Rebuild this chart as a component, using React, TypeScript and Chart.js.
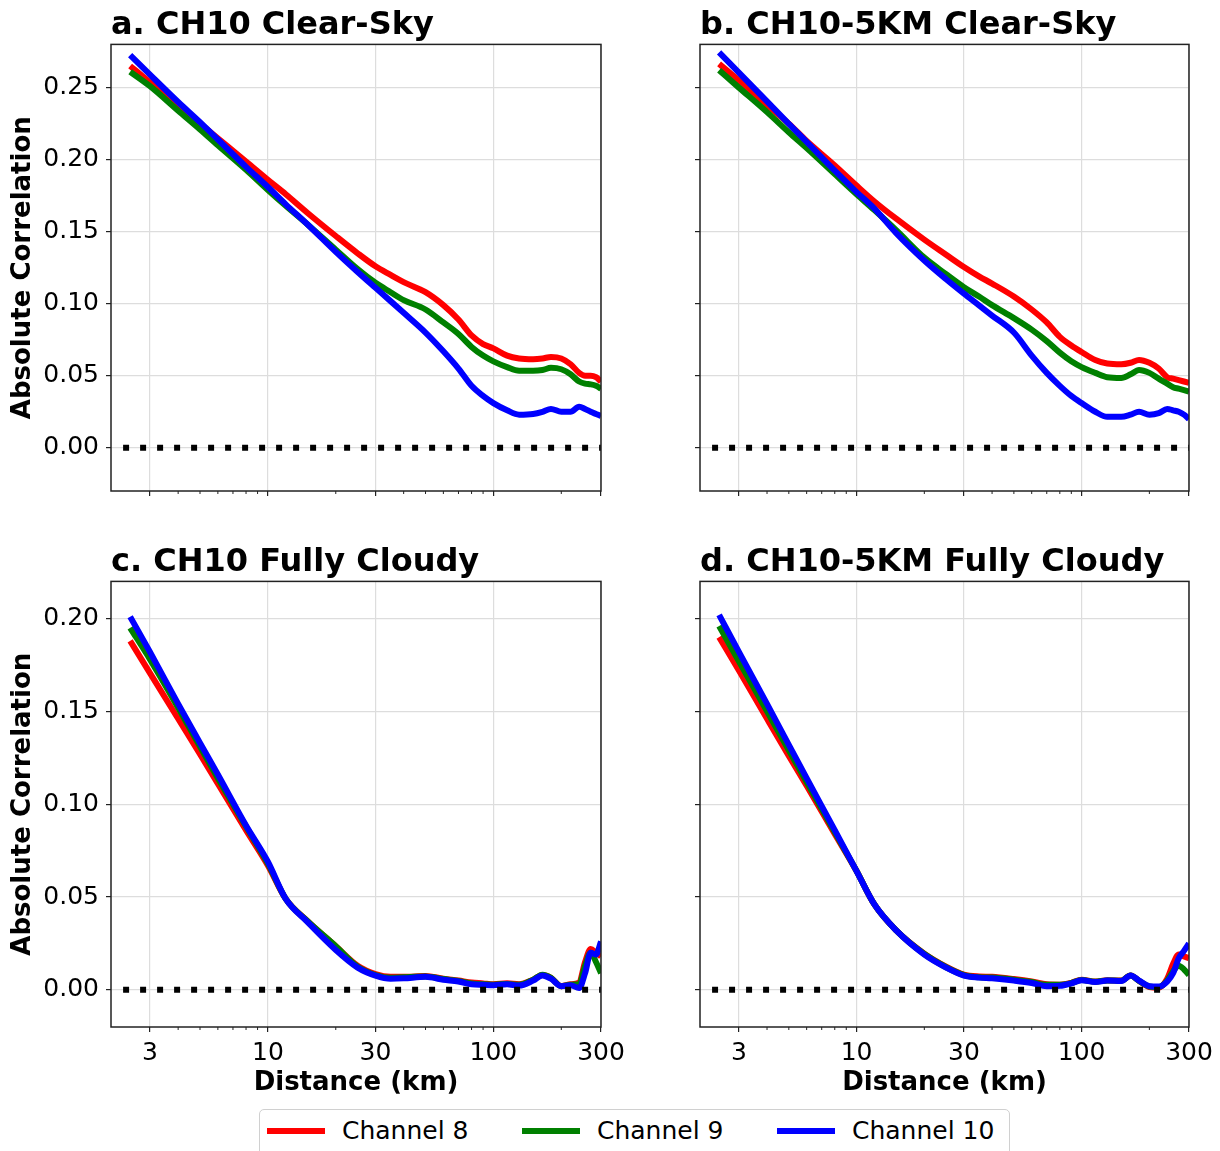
import React, { useEffect, useRef } from 'react';
import { Chart, registerables } from 'chart.js';

Chart.register(...registerables);

const FONT = "'DejaVu Sans', 'Liberation Sans', sans-serif";

// ---------- data ----------
const DISTANCE_KM = [2.45, 3, 4, 5, 6, 8, 10, 12, 15, 20, 25, 30, 35, 40, 50, 60, 70, 80, 90, 100, 115, 130, 150, 165, 180, 200, 220, 240, 255, 270, 285, 300];

// a. CH10 Clear-Sky
const CLEAR_CH8 = [0.265, 0.2537, 0.2375, 0.225, 0.2148, 0.1987, 0.186, 0.176, 0.163, 0.147, 0.135, 0.126, 0.120, 0.115, 0.108, 0.099, 0.089, 0.078, 0.072, 0.069, 0.064, 0.062, 0.0615, 0.062, 0.063, 0.062, 0.058, 0.052, 0.050, 0.050, 0.049, 0.046];
const CLEAR_CH9 = [0.261, 0.251, 0.234, 0.221, 0.210, 0.193, 0.179, 0.168, 0.155, 0.1375, 0.124, 0.1145, 0.108, 0.1025, 0.096, 0.087, 0.079, 0.070, 0.064, 0.060, 0.056, 0.0535, 0.0535, 0.054, 0.0555, 0.0545, 0.051, 0.046, 0.0445, 0.044, 0.043, 0.041];
const CLEAR_CH10 = [0.2725, 0.259, 0.240, 0.226, 0.214, 0.195, 0.181, 0.169, 0.155, 0.136, 0.122, 0.111, 0.1018, 0.0937, 0.080, 0.067, 0.055, 0.043, 0.036, 0.031, 0.026, 0.023, 0.0235, 0.025, 0.027, 0.025, 0.025, 0.0285, 0.027, 0.025, 0.0235, 0.022];

// b. CH10-5KM Clear-Sky
const CLEAR5_CH8 = [0.2665, 0.255, 0.238, 0.225, 0.213, 0.196, 0.182, 0.171, 0.159, 0.1445, 0.134, 0.1255, 0.119, 0.114, 0.105, 0.096, 0.087, 0.077, 0.071, 0.0665, 0.061, 0.0585, 0.058, 0.059, 0.061, 0.059, 0.055, 0.049, 0.048, 0.047, 0.046, 0.045];
const CLEAR5_CH9 = [0.262, 0.250, 0.233, 0.219, 0.208, 0.190, 0.176, 0.165, 0.151, 0.132, 0.1205, 0.1115, 0.105, 0.099, 0.090, 0.082, 0.074, 0.066, 0.060, 0.056, 0.052, 0.049, 0.0485, 0.051, 0.054, 0.052, 0.048, 0.0445, 0.042, 0.041, 0.040, 0.039];
const CLEAR5_CH10 = [0.2745, 0.2604, 0.2404, 0.2249, 0.2123, 0.1923, 0.1775, 0.166, 0.149, 0.130, 0.117, 0.107, 0.0989, 0.0918, 0.080, 0.064, 0.052, 0.043, 0.036, 0.031, 0.025, 0.0215, 0.0215, 0.023, 0.025, 0.023, 0.024, 0.027, 0.026, 0.025, 0.023, 0.020];

// c. CH10 Fully Cloudy
const CLOUDY_CH8 = [0.188, 0.1706, 0.146, 0.127, 0.111, 0.086, 0.067, 0.049, 0.037, 0.0235, 0.013, 0.0085, 0.007, 0.007, 0.0075, 0.006, 0.005, 0.004, 0.0035, 0.003, 0.0035, 0.003, 0.0055, 0.008, 0.0065, 0.002, 0.003, 0.004, 0.015, 0.022, 0.020, 0.018];
const CLOUDY_CH9 = [0.195, 0.178, 0.152, 0.131, 0.114, 0.088, 0.068, 0.049, 0.037, 0.0235, 0.0125, 0.008, 0.0065, 0.0068, 0.0072, 0.0058, 0.0048, 0.0035, 0.003, 0.0028, 0.0032, 0.0027, 0.0055, 0.0082, 0.0065, 0.002, 0.0028, 0.003, 0.013, 0.020, 0.015, 0.009];
const CLOUDY_CH10 = [0.201, 0.182, 0.154, 0.133, 0.116, 0.0885, 0.069, 0.049, 0.0365, 0.0215, 0.012, 0.0077, 0.006, 0.0062, 0.007, 0.0055, 0.0045, 0.003, 0.0027, 0.0025, 0.003, 0.0023, 0.005, 0.0078, 0.006, 0.002, 0.0025, 0.001, 0.009, 0.020, 0.019, 0.026];

// d. CH10-5KM Fully Cloudy
const CLOUDY5_CH8 = [0.190, 0.172, 0.146, 0.126, 0.110, 0.084, 0.064, 0.046, 0.032, 0.0195, 0.0125, 0.0082, 0.0072, 0.007, 0.0058, 0.0045, 0.003, 0.0028, 0.0038, 0.0055, 0.0045, 0.0052, 0.005, 0.0078, 0.0048, 0.0015, 0.0012, 0.006, 0.014, 0.019, 0.018, 0.017];
const CLOUDY5_CH9 = [0.196, 0.177, 0.150, 0.129, 0.112, 0.085, 0.064, 0.046, 0.032, 0.0193, 0.0122, 0.008, 0.0068, 0.0066, 0.0055, 0.0042, 0.0027, 0.0027, 0.0037, 0.0053, 0.0044, 0.0051, 0.0049, 0.0077, 0.0048, 0.0018, 0.0015, 0.005, 0.010, 0.013, 0.011, 0.008];
const CLOUDY5_CH10 = [0.202, 0.182, 0.154, 0.132, 0.114, 0.086, 0.064, 0.046, 0.032, 0.019, 0.012, 0.0077, 0.0066, 0.0062, 0.005, 0.0037, 0.002, 0.0022, 0.0035, 0.0052, 0.0042, 0.005, 0.0048, 0.0078, 0.005, 0.002, 0.0018, 0.0045, 0.009, 0.017, 0.021, 0.025];

const SERIES_NAMES = ['Channel 8', 'Channel 9', 'Channel 10'];
const SERIES_COLORS = ['#ff0000', '#008000', '#0000ff'];
const PANEL_TITLES = ['a. CH10 Clear-Sky', 'b. CH10-5KM Clear-Sky', 'c. CH10 Fully Cloudy', 'd. CH10-5KM Fully Cloudy'];

const X_MIN = 2.015;
const X_MAX = 300;
const X_MAJOR_TICKS = [3, 10, 30, 100, 300];
const X_MINOR_TICKS = [4, 5, 6, 7, 8, 9, 20, 40, 50, 60, 70, 80, 90, 200];
const Y_RANGE_CLEAR = [-0.03, 0.28];
const Y_RANGE_CLOUDY = [-0.02, 0.22];
const Y_TICKS_CLEAR = [0, 0.05, 0.1, 0.15, 0.2, 0.25];
const Y_TICKS_CLOUDY = [0, 0.05, 0.1, 0.15, 0.2];
const ZERO_LINE_X = [2.28, 300];

type PanelSpec = {
  title: string;
  series: number[][];
  yRange: number[];
  yTicks: number[];
  showYLabels: boolean;
  showXLabels: boolean;
  left: number;
  top: number;
  width: number;
  height: number;
  areaLeft: number;
  areaRight: number;
  areaBottom: number;
  titlePadTop: number;
};

const framePlugin = {
  id: 'frameAndMinor',
  afterDraw(chart: any) {
    const { ctx, chartArea: a } = chart;
    const xs = chart.scales.x;
    ctx.save();
    ctx.strokeStyle = '#222';
    ctx.lineWidth = 1;
    X_MINOR_TICKS.forEach((v) => {
      const px = xs.getPixelForValue(v);
      ctx.beginPath();
      ctx.moveTo(px, a.bottom);
      ctx.lineTo(px, a.bottom + 3);
      ctx.stroke();
    });
    ctx.lineWidth = 1.5;
    ctx.strokeRect(a.left, a.top, a.right - a.left, a.bottom - a.top);
    ctx.restore();
  },
};

function Panel({ spec }: { spec: PanelSpec }) {
  const ref = useRef<HTMLCanvasElement>(null);
  useEffect(() => {
    const canvas = ref.current;
    if (!canvas) return;
    const datasets: any[] = [
      {
        label: 'zero',
        data: ZERO_LINE_X.map((x) => ({ x, y: 0 })),
        borderColor: '#000',
        borderWidth: 6,
        borderDash: [6, 11],
        borderCapStyle: 'butt',
        pointRadius: 0,
        order: 0,
        clip: 0,
      },
      ...spec.series.map((vals, i) => ({
        label: SERIES_NAMES[i],
        data: DISTANCE_KM.map((x, j) => ({ x, y: vals[j] })),
        borderColor: SERIES_COLORS[i],
        backgroundColor: SERIES_COLORS[i],
        borderWidth: 6,
        pointRadius: 0,
        cubicInterpolationMode: 'monotone',
        borderJoinStyle: 'round',
        borderCapStyle: 'butt',
        order: 3 - i,
        clip: 0,
      })),
    ];
    const chart = new Chart(canvas, {
      type: 'line',
      data: { datasets },
      plugins: [framePlugin],
      options: {
        animation: false,
        responsive: false,
        events: [],
        layout: { padding: { left: 0, top: 0, right: spec.width - spec.areaRight, bottom: 0 } },
        plugins: {
          legend: { display: false },
          tooltip: { enabled: false },
          title: {
            display: true,
            text: spec.title,
            align: 'start',
            fullSize: false,
            color: '#000',
            font: { family: FONT, size: 32, weight: 'bold' },
            padding: { top: spec.titlePadTop, bottom: 0 },
          },
        },
        scales: {
          x: {
            type: 'logarithmic',
            min: X_MIN,
            max: X_MAX,
            afterBuildTicks: (scale: any) => {
              scale.ticks = X_MAJOR_TICKS.map((v) => ({ value: v }));
            },
            afterFit: (scale: any) => {
              scale.height = spec.height - spec.areaBottom;
            },
            ticks: {
              autoSkip: false,
              maxRotation: 0,
              minRotation: 0,
              padding: 6,
              color: '#000',
              font: { family: FONT, size: 25 },
              callback: (v: any) => (spec.showXLabels ? String(v) : ''),
            },
            grid: { color: '#dddddd', lineWidth: 1.2, tickLength: 5, tickColor: '#222', tickWidth: 1.2 },
            border: { display: false },
            title: {
              display: spec.showXLabels,
              text: 'Distance (km)',
              color: '#000',
              font: { family: FONT, size: 26, weight: 'bold' },
              padding: { top: 0, bottom: 1 },
            },
          },
          y: {
            type: 'linear',
            min: spec.yRange[0],
            max: spec.yRange[1],
            afterBuildTicks: (scale: any) => {
              scale.ticks = spec.yTicks.map((v) => ({ value: v }));
            },
            afterFit: (scale: any) => {
              scale.width = spec.areaLeft;
            },
            ticks: {
              padding: 7,
              color: '#000',
              font: { family: FONT, size: 25 },
              callback: (v: any) => (spec.showYLabels ? Number(v).toFixed(2) : ''),
            },
            grid: { color: '#dddddd', lineWidth: 1.2, tickLength: 5, tickColor: '#222', tickWidth: 1.2 },
            border: { display: false },
            title: {
              display: spec.showYLabels,
              text: 'Absolute Correlation',
              color: '#000',
              font: { family: FONT, size: 26, weight: 'bold' },
              padding: { top: 8, bottom: 0 },
            },
          },
        },
      } as any,
    });
    return () => chart.destroy();
  }, [spec]);

  return (
    <canvas
      ref={ref}
      width={spec.width}
      height={spec.height}
      style={{ position: 'absolute', left: spec.left, top: spec.top, width: spec.width, height: spec.height }}
    />
  );
}

const PANELS: PanelSpec[] = [
  {
    title: PANEL_TITLES[0], series: [CLEAR_CH8, CLEAR_CH9, CLEAR_CH10], yRange: Y_RANGE_CLEAR, yTicks: Y_TICKS_CLEAR,
    showYLabels: true, showXLabels: false,
    left: 0, top: 0, width: 650, height: 540, areaLeft: 111, areaRight: 601, areaBottom: 491, titlePadTop: 6,
  },
  {
    title: PANEL_TITLES[1], series: [CLEAR5_CH8, CLEAR5_CH9, CLEAR5_CH10], yRange: Y_RANGE_CLEAR, yTicks: Y_TICKS_CLEAR,
    showYLabels: false, showXLabels: false,
    left: 650, top: 0, width: 570, height: 540, areaLeft: 50, areaRight: 539, areaBottom: 491, titlePadTop: 6,
  },
  {
    title: PANEL_TITLES[2], series: [CLOUDY_CH8, CLOUDY_CH9, CLOUDY_CH10], yRange: Y_RANGE_CLOUDY, yTicks: Y_TICKS_CLOUDY,
    showYLabels: true, showXLabels: true,
    left: 0, top: 540, width: 650, height: 560, areaLeft: 111, areaRight: 601, areaBottom: 487, titlePadTop: 3,
  },
  {
    title: PANEL_TITLES[3], series: [CLOUDY5_CH8, CLOUDY5_CH9, CLOUDY5_CH10], yRange: Y_RANGE_CLOUDY, yTicks: Y_TICKS_CLOUDY,
    showYLabels: false, showXLabels: true,
    left: 650, top: 540, width: 570, height: 560, areaLeft: 50, areaRight: 539, areaBottom: 487, titlePadTop: 3,
  },
];

const LEGEND_SWATCH_LEFT = [7, 262, 517];
const LEGEND_TEXT_LEFT = [82, 337, 592];

function Legend() {
  return (
    <div
      style={{
        position: 'absolute',
        left: 259,
        top: 1109,
        width: 751,
        height: 60,
        border: '1px solid #d0d0d0',
        borderRadius: 5,
        background: '#fff',
        boxSizing: 'border-box',
      }}
    >
      {SERIES_NAMES.map((name, i) => (
        <React.Fragment key={name}>
          <div
            style={{
              position: 'absolute',
              left: LEGEND_SWATCH_LEFT[i],
              top: 18,
              width: 58,
              height: 6,
              background: SERIES_COLORS[i],
            }}
          />
          <div
            style={{
              position: 'absolute',
              left: LEGEND_TEXT_LEFT[i],
              top: 6,
              fontFamily: FONT,
              fontSize: 25,
              lineHeight: '29px',
              color: '#000',
              whiteSpace: 'nowrap',
            }}
          >
            {name}
          </div>
        </React.Fragment>
      ))}
    </div>
  );
}

export default function App() {
  return (
    <div
      style={{
        position: 'absolute',
        left: 0,
        top: 0,
        width: 1220,
        height: 1151,
        overflow: 'hidden',
        background: '#fff',
      }}
    >
      {PANELS.map((p) => (
        <Panel key={p.title} spec={p} />
      ))}
      <Legend />
    </div>
  );
}
